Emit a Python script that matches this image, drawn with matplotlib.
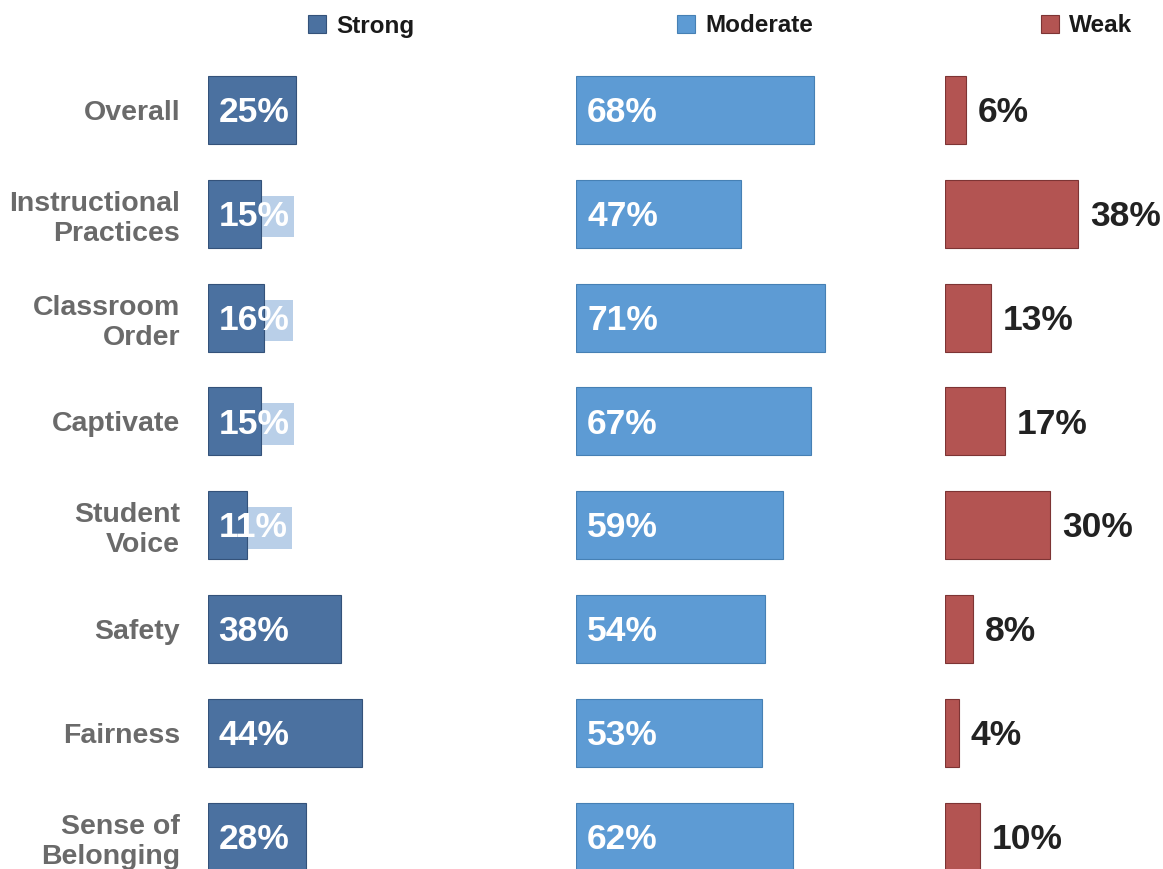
import matplotlib
matplotlib.use("Agg")
import matplotlib.pyplot as plt
from matplotlib.patches import Patch

# Survey categories and share of responses per rating level (%)
categories = ["Overall", "Instructional\nPractices", "Classroom\nOrder", "Captivate",
              "Student\nVoice", "Safety", "Fairness", "Sense of\nBelonging"]
strong = [25, 15, 16, 15, 11, 38, 44, 28]
moderate = [68, 47, 71, 67, 59, 54, 53, 62]
weak = [6, 38, 13, 17, 30, 8, 4, 10]
level_names = ["Strong", "Moderate", "Weak"]

plt.rcParams["font.family"] = ["Liberation Sans", "DejaVu Sans"]
plt.rcParams["font.weight"] = "bold"

C_STRONG = "#4b71a0"
C_STRONG_EDGE = "#34527a"
C_MOD = "#5d9bd4"
C_MOD_EDGE = "#4680b4"
C_WEAK = "#b35452"
C_WEAK_EDGE = "#7d3434"
C_PALE = "#b9cfe8"
LABEL_GRAY = "#6a6a6a"

W, H = 1163, 869
fig = plt.figure(figsize=(W / 100, H / 100), dpi=100)
fig.patch.set_facecolor("white")

PX_PER_PCT = 3.5
top_px, bot_px = 58, 869
row_step = 103.8
y_top = -0.5
y_bot = y_top + (bot_px - top_px) / row_step
bar_h = 68 / row_step
rows = list(range(len(categories)))


def make_axes(left_px, width_px):
    ax = fig.add_axes([left_px / W, 1 - bot_px / H, width_px / W, (bot_px - top_px) / H])
    ax.set_xlim(0, width_px / PX_PER_PCT)
    ax.set_ylim(y_bot, y_top)
    ax.axis("off")
    return ax


ax_s = make_axes(208, 352)
ax_m = make_axes(576, 352)
ax_w = make_axes(945, 218)

VAL_SIZE = 25.5
DY = -2  # nudge labels so the digits sit on the bar's centre line

# Strong panel: pale backing under the label so it stays legible past short bars
for y, v in zip(rows, strong):
    ax_s.annotate(f"{v}%", xy=(0, y), xytext=(7.5, DY), textcoords="offset points",
                  ha="left", va="center", fontsize=VAL_SIZE, color=C_PALE,
                  bbox=dict(boxstyle="square,pad=0.12", fc=C_PALE, ec="none"), zorder=1)
ax_s.barh(rows, strong, height=bar_h, color=C_STRONG, edgecolor=C_STRONG_EDGE,
          linewidth=0.8, align="center", zorder=2)
for y, v in zip(rows, strong):
    ax_s.annotate(f"{v}%", xy=(0, y), xytext=(7.5, DY), textcoords="offset points",
                  ha="left", va="center", fontsize=VAL_SIZE, color="white", zorder=3)

# Category labels on the left of the first panel
ax_s.axis("on")
for sp in ax_s.spines.values():
    sp.set_visible(False)
ax_s.set_xticks([])
ax_s.set_yticks(rows)
ax_s.set_yticklabels(categories, fontsize=20.5, color=LABEL_GRAY, fontweight="bold",
                     linespacing=1.2)
ax_s.tick_params(axis="y", length=0, pad=20)
ax_s.set_facecolor("none")

# Moderate panel
ax_m.barh(rows, moderate, height=bar_h, color=C_MOD, edgecolor=C_MOD_EDGE,
          linewidth=0.8, align="center", zorder=2)
for y, v in zip(rows, moderate):
    ax_m.annotate(f"{v}%", xy=(0, y), xytext=(8, DY), textcoords="offset points",
                  ha="left", va="center", fontsize=VAL_SIZE, color="white", zorder=3)

# Weak panel, labels outside the bar end
ax_w.barh(rows, weak, height=bar_h, color=C_WEAK, edgecolor=C_WEAK_EDGE,
          linewidth=0.8, align="center", zorder=2)
for y, v in zip(rows, weak):
    ax_w.annotate(f"{v}%", xy=(v, y), xytext=(8.5, DY), textcoords="offset points",
                  ha="left", va="center", fontsize=VAL_SIZE, color="#222222", zorder=3)

# Legend entries across the top
legend_specs = [(308, C_STRONG, C_STRONG_EDGE), (677, C_MOD, C_MOD_EDGE), (1041, C_WEAK, C_WEAK_EDGE)]
for name, (x_px, fc, ec) in zip(level_names, legend_specs):
    leg = fig.legend(handles=[Patch(facecolor=fc, edgecolor=ec, linewidth=0.8, label=name)],
                     loc="center left", bbox_to_anchor=(x_px / W, 1 - 26 / H),
                     frameon=False, fontsize=17.5, handlelength=0.75, handleheight=0.75,
                     handletextpad=0.4, borderpad=0, borderaxespad=0)
    for t in leg.get_texts():
        t.set_fontweight("bold")
        t.set_color("#1a1a1a")

fig.savefig("out.png", dpi=100, facecolor="white")
